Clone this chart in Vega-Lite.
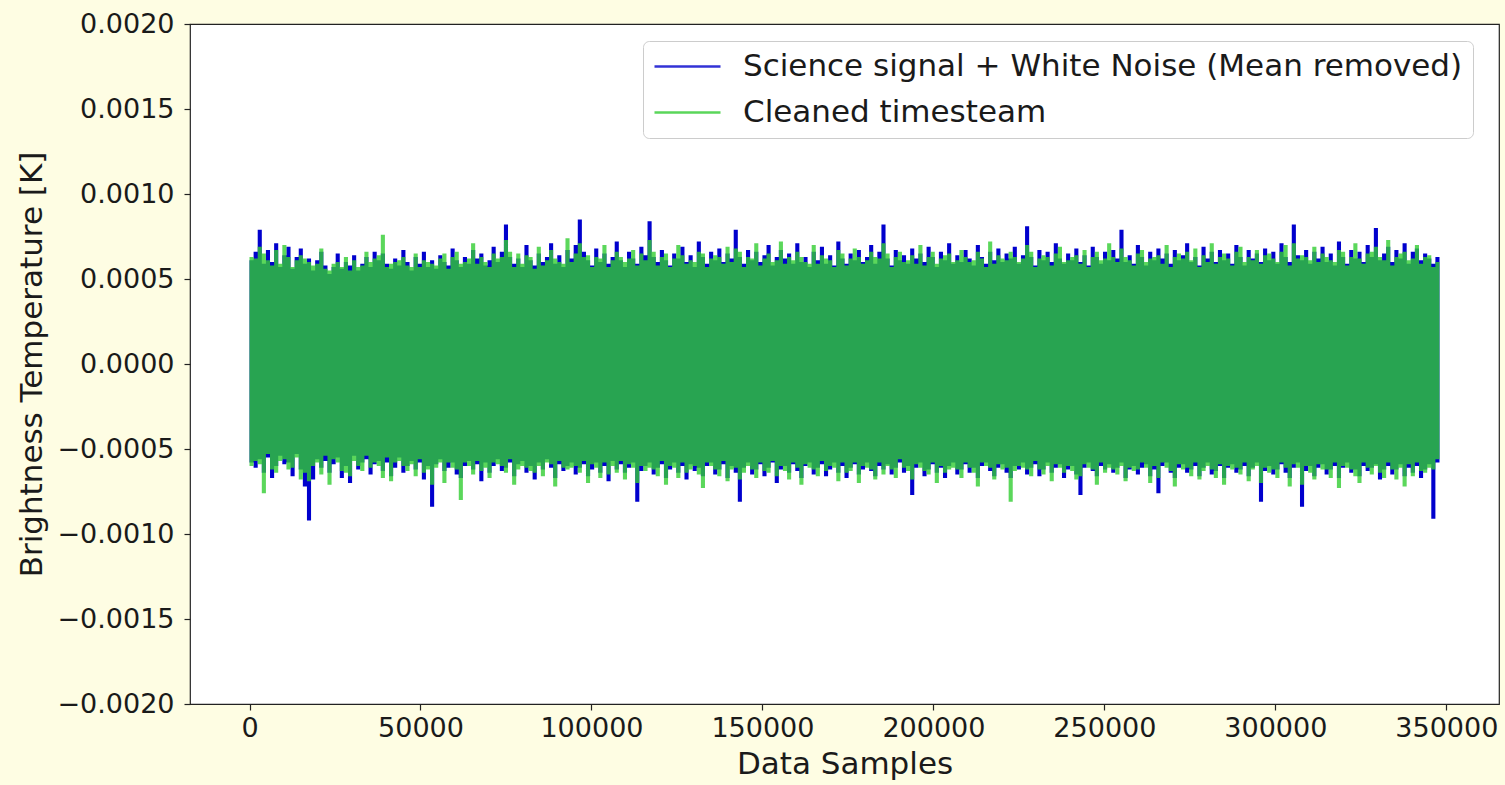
{
  "$schema": "https://vega.github.io/schema/vega-lite/v6.json",
  "width": 1309,
  "height": 680,
  "autosize": {"type": "none"},
  "padding": {"left": 190, "top": 24, "right": 6, "bottom": 81},
  "background": "#fefde3",
  "config": {
    "view": {"fill": "white", "stroke": "#222222", "strokeWidth": 1.2},
    "font": "DejaVu Sans",
    "axis": {
      "domain": false, "grid": false,
      "tickColor": "#222222", "tickSize": 6, "tickWidth": 1.2,
      "labelFont": "DejaVu Sans", "labelFontSize": 27, "labelColor": "#1a1a1a",
      "titleFont": "DejaVu Sans", "titleFontSize": 31, "titleFontWeight": "normal", "titleColor": "#1a1a1a"
    }
  },
  "data": {"values": [
    {"x":0,"bh":6.1e-4,"gh":6.3e-4,"bl":-5.8e-4,"gl":-6.0e-4},
    {"x":1200,"bh":6.6e-4,"gh":6.2e-4,"bl":-6.1e-4,"gl":-5.7e-4},
    {"x":2400,"bh":7.9e-4,"gh":6.9e-4,"bl":-5.6e-4,"gl":-5.9e-4},
    {"x":3600,"bh":5.9e-4,"gh":6.5e-4,"bl":-6.4e-4,"gl":-7.6e-4},
    {"x":4800,"bh":6.7e-4,"gh":6.1e-4,"bl":-5.5e-4,"gl":-5.3e-4},
    {"x":6000,"bh":6.0e-4,"gh":5.8e-4,"bl":-6.7e-4,"gl":-6.2e-4},
    {"x":7200,"bh":7.1e-4,"gh":6.7e-4,"bl":-6.0e-4,"gl":-6.4e-4},
    {"x":8400,"bh":5.7e-4,"gh":5.9e-4,"bl":-5.4e-4,"gl":-5.7e-4},
    {"x":9600,"bh":6.4e-4,"gh":7.0e-4,"bl":-5.9e-4,"gl":-5.6e-4},
    {"x":10800,"bh":6.9e-4,"gh":6.3e-4,"bl":-5.8e-4,"gl":-6.2e-4},
    {"x":12000,"bh":5.6e-4,"gh":5.7e-4,"bl":-6.6e-4,"gl":-6.1e-4},
    {"x":13200,"bh":6.3e-4,"gh":6.1e-4,"bl":-5.3e-4,"gl":-5.5e-4},
    {"x":14400,"bh":6.8e-4,"gh":6.4e-4,"bl":-6.2e-4,"gl":-6.8e-4},
    {"x":15600,"bh":5.9e-4,"gh":6.2e-4,"bl":-7.2e-4,"gl":-6.4e-4},
    {"x":16800,"bh":6.2e-4,"gh":6.0e-4,"bl":-9.2e-4,"gl":-6.9e-4},
    {"x":18000,"bh":5.5e-4,"gh":5.8e-4,"bl":-6.8e-4,"gl":-6.0e-4},
    {"x":19200,"bh":6.1e-4,"gh":5.9e-4,"bl":-5.6e-4,"gl":-5.8e-4},
    {"x":20400,"bh":6.6e-4,"gh":6.8e-4,"bl":-6.1e-4,"gl":-6.5e-4},
    {"x":21600,"bh":5.8e-4,"gh":5.6e-4,"bl":-5.7e-4,"gl":-5.4e-4},
    {"x":22800,"bh":5.3e-4,"gh":5.5e-4,"bl":-6.4e-4,"gl":-7.1e-4},
    {"x":24000,"bh":5.7e-4,"gh":5.9e-4,"bl":-5.9e-4,"gl":-5.6e-4},
    {"x":25200,"bh":6.5e-4,"gh":6.0e-4,"bl":-5.5e-4,"gl":-5.8e-4},
    {"x":26400,"bh":5.6e-4,"gh":5.7e-4,"bl":-6.7e-4,"gl":-6.3e-4},
    {"x":27600,"bh":6.0e-4,"gh":6.3e-4,"bl":-6.0e-4,"gl":-6.4e-4},
    {"x":28800,"bh":5.8e-4,"gh":5.5e-4,"bl":-7.0e-4,"gl":-6.6e-4},
    {"x":30000,"bh":6.4e-4,"gh":6.1e-4,"bl":-5.4e-4,"gl":-5.7e-4},
    {"x":31200,"bh":5.5e-4,"gh":5.7e-4,"bl":-6.2e-4,"gl":-6.0e-4},
    {"x":32400,"bh":5.9e-4,"gh":5.8e-4,"bl":-5.8e-4,"gl":-6.3e-4},
    {"x":33600,"bh":6.3e-4,"gh":6.6e-4,"bl":-5.6e-4,"gl":-5.4e-4},
    {"x":34800,"bh":5.7e-4,"gh":6.0e-4,"bl":-6.5e-4,"gl":-6.1e-4},
    {"x":36000,"bh":6.6e-4,"gh":6.2e-4,"bl":-5.9e-4,"gl":-5.8e-4},
    {"x":37200,"bh":6.1e-4,"gh":6.4e-4,"bl":-5.7e-4,"gl":-6.0e-4},
    {"x":38400,"bh":6.5e-4,"gh":7.6e-4,"bl":-6.3e-4,"gl":-6.7e-4},
    {"x":39600,"bh":5.9e-4,"gh":5.7e-4,"bl":-5.8e-4,"gl":-5.5e-4},
    {"x":40800,"bh":5.6e-4,"gh":5.9e-4,"bl":-6.6e-4,"gl":-6.9e-4},
    {"x":42000,"bh":6.2e-4,"gh":6.0e-4,"bl":-6.1e-4,"gl":-5.8e-4},
    {"x":43200,"bh":5.8e-4,"gh":6.1e-4,"bl":-5.5e-4,"gl":-5.7e-4},
    {"x":44400,"bh":6.7e-4,"gh":6.3e-4,"bl":-6.4e-4,"gl":-6.0e-4},
    {"x":45600,"bh":6.0e-4,"gh":5.8e-4,"bl":-6.0e-4,"gl":-6.3e-4},
    {"x":46800,"bh":5.5e-4,"gh":5.7e-4,"bl":-5.7e-4,"gl":-5.9e-4},
    {"x":48000,"bh":6.3e-4,"gh":6.5e-4,"bl":-6.2e-4,"gl":-6.6e-4},
    {"x":49200,"bh":5.9e-4,"gh":5.7e-4,"bl":-5.8e-4,"gl":-5.6e-4},
    {"x":50400,"bh":6.6e-4,"gh":6.1e-4,"bl":-6.8e-4,"gl":-6.4e-4},
    {"x":51600,"bh":5.7e-4,"gh":6.0e-4,"bl":-6.0e-4,"gl":-6.2e-4},
    {"x":52800,"bh":6.1e-4,"gh":5.9e-4,"bl":-8.4e-4,"gl":-7.1e-4},
    {"x":54000,"bh":5.6e-4,"gh":5.8e-4,"bl":-5.9e-4,"gl":-6.1e-4},
    {"x":55200,"bh":6.4e-4,"gh":6.2e-4,"bl":-5.6e-4,"gl":-5.8e-4},
    {"x":56400,"bh":6.0e-4,"gh":6.5e-4,"bl":-6.3e-4,"gl":-7.0e-4},
    {"x":57600,"bh":5.8e-4,"gh":5.6e-4,"bl":-6.1e-4,"gl":-5.8e-4},
    {"x":58800,"bh":6.8e-4,"gh":6.3e-4,"bl":-5.8e-4,"gl":-6.1e-4},
    {"x":60000,"bh":6.1e-4,"gh":6.6e-4,"bl":-6.5e-4,"gl":-6.2e-4},
    {"x":61200,"bh":5.7e-4,"gh":5.9e-4,"bl":-6.7e-4,"gl":-8.0e-4},
    {"x":62400,"bh":6.3e-4,"gh":6.0e-4,"bl":-6.0e-4,"gl":-5.8e-4},
    {"x":63600,"bh":5.9e-4,"gh":6.2e-4,"bl":-5.7e-4,"gl":-6.0e-4},
    {"x":64800,"bh":6.7e-4,"gh":7.1e-4,"bl":-6.2e-4,"gl":-6.5e-4},
    {"x":66000,"bh":6.2e-4,"gh":5.9e-4,"bl":-5.9e-4,"gl":-5.7e-4},
    {"x":67200,"bh":6.5e-4,"gh":6.3e-4,"bl":-6.9e-4,"gl":-6.3e-4},
    {"x":68400,"bh":5.8e-4,"gh":6.0e-4,"bl":-5.8e-4,"gl":-6.1e-4},
    {"x":69600,"bh":6.1e-4,"gh":5.7e-4,"bl":-6.4e-4,"gl":-6.7e-4},
    {"x":70800,"bh":6.9e-4,"gh":6.5e-4,"bl":-6.0e-4,"gl":-5.8e-4},
    {"x":72000,"bh":6.0e-4,"gh":6.2e-4,"bl":-5.6e-4,"gl":-5.9e-4},
    {"x":73200,"bh":6.6e-4,"gh":6.3e-4,"bl":-6.3e-4,"gl":-6.0e-4},
    {"x":74400,"bh":8.2e-4,"gh":7.3e-4,"bl":-6.1e-4,"gl":-6.4e-4},
    {"x":75600,"bh":6.3e-4,"gh":6.6e-4,"bl":-5.8e-4,"gl":-5.6e-4},
    {"x":76800,"bh":5.9e-4,"gh":5.7e-4,"bl":-6.6e-4,"gl":-7.1e-4},
    {"x":78000,"bh":6.2e-4,"gh":6.5e-4,"bl":-5.9e-4,"gl":-6.2e-4},
    {"x":79200,"bh":5.7e-4,"gh":5.9e-4,"bl":-5.7e-4,"gl":-6.0e-4},
    {"x":80400,"bh":7.0e-4,"gh":6.4e-4,"bl":-6.4e-4,"gl":-6.1e-4},
    {"x":81600,"bh":6.1e-4,"gh":6.3e-4,"bl":-6.0e-4,"gl":-6.3e-4},
    {"x":82800,"bh":5.8e-4,"gh":5.6e-4,"bl":-6.8e-4,"gl":-6.4e-4},
    {"x":84000,"bh":6.5e-4,"gh":6.9e-4,"bl":-5.8e-4,"gl":-6.0e-4},
    {"x":85200,"bh":6.0e-4,"gh":5.8e-4,"bl":-6.2e-4,"gl":-6.6e-4},
    {"x":86400,"bh":6.3e-4,"gh":6.1e-4,"bl":-5.6e-4,"gl":-5.8e-4},
    {"x":87600,"bh":7.1e-4,"gh":6.7e-4,"bl":-6.1e-4,"gl":-5.9e-4},
    {"x":88800,"bh":5.9e-4,"gh":6.2e-4,"bl":-6.7e-4,"gl":-7.2e-4},
    {"x":90000,"bh":6.4e-4,"gh":6.0e-4,"bl":-5.9e-4,"gl":-5.7e-4},
    {"x":91200,"bh":5.7e-4,"gh":5.9e-4,"bl":-6.3e-4,"gl":-6.1e-4},
    {"x":92400,"bh":6.7e-4,"gh":7.4e-4,"bl":-6.0e-4,"gl":-6.2e-4},
    {"x":93600,"bh":6.2e-4,"gh":6.0e-4,"bl":-5.8e-4,"gl":-6.1e-4},
    {"x":94800,"bh":7.0e-4,"gh":6.5e-4,"bl":-6.5e-4,"gl":-6.0e-4},
    {"x":96000,"bh":8.5e-4,"gh":7.1e-4,"bl":-6.1e-4,"gl":-6.4e-4},
    {"x":97200,"bh":6.6e-4,"gh":6.3e-4,"bl":-5.9e-4,"gl":-5.7e-4},
    {"x":98400,"bh":6.1e-4,"gh":6.4e-4,"bl":-6.6e-4,"gl":-7.0e-4},
    {"x":99600,"bh":5.8e-4,"gh":5.7e-4,"bl":-6.2e-4,"gl":-5.9e-4},
    {"x":100800,"bh":6.8e-4,"gh":6.3e-4,"bl":-5.8e-4,"gl":-6.1e-4},
    {"x":102000,"bh":6.0e-4,"gh":6.2e-4,"bl":-6.4e-4,"gl":-6.7e-4},
    {"x":103200,"bh":6.5e-4,"gh":7.0e-4,"bl":-6.0e-4,"gl":-5.8e-4},
    {"x":104400,"bh":5.9e-4,"gh":5.7e-4,"bl":-6.9e-4,"gl":-6.5e-4},
    {"x":105600,"bh":6.3e-4,"gh":6.1e-4,"bl":-5.7e-4,"gl":-6.0e-4},
    {"x":106800,"bh":7.2e-4,"gh":6.6e-4,"bl":-6.2e-4,"gl":-6.4e-4},
    {"x":108000,"bh":6.1e-4,"gh":6.3e-4,"bl":-5.9e-4,"gl":-5.7e-4},
    {"x":109200,"bh":5.7e-4,"gh":6.0e-4,"bl":-6.4e-4,"gl":-6.8e-4},
    {"x":110400,"bh":6.6e-4,"gh":6.2e-4,"bl":-6.1e-4,"gl":-5.9e-4},
    {"x":111600,"bh":6.2e-4,"gh":6.7e-4,"bl":-5.8e-4,"gl":-6.1e-4},
    {"x":112800,"bh":5.9e-4,"gh":5.8e-4,"bl":-8.1e-4,"gl":-7.0e-4},
    {"x":114000,"bh":6.9e-4,"gh":6.5e-4,"bl":-6.3e-4,"gl":-6.0e-4},
    {"x":115200,"bh":6.4e-4,"gh":6.1e-4,"bl":-6.0e-4,"gl":-6.3e-4},
    {"x":116400,"bh":8.4e-4,"gh":7.3e-4,"bl":-5.8e-4,"gl":-6.1e-4},
    {"x":117600,"bh":6.3e-4,"gh":6.6e-4,"bl":-6.5e-4,"gl":-6.2e-4},
    {"x":118800,"bh":6.0e-4,"gh":5.8e-4,"bl":-6.1e-4,"gl":-6.6e-4},
    {"x":120000,"bh":6.7e-4,"gh":6.3e-4,"bl":-5.9e-4,"gl":-5.7e-4},
    {"x":121200,"bh":6.1e-4,"gh":6.5e-4,"bl":-6.7e-4,"gl":-7.1e-4},
    {"x":122400,"bh":5.8e-4,"gh":5.7e-4,"bl":-6.2e-4,"gl":-6.0e-4},
    {"x":123600,"bh":6.5e-4,"gh":6.2e-4,"bl":-5.8e-4,"gl":-6.1e-4},
    {"x":124800,"bh":6.2e-4,"gh":7.0e-4,"bl":-6.4e-4,"gl":-6.7e-4},
    {"x":126000,"bh":6.9e-4,"gh":6.4e-4,"bl":-6.0e-4,"gl":-5.8e-4},
    {"x":127200,"bh":6.0e-4,"gh":5.9e-4,"bl":-6.8e-4,"gl":-6.4e-4},
    {"x":128400,"bh":6.4e-4,"gh":6.1e-4,"bl":-5.9e-4,"gl":-6.2e-4},
    {"x":129600,"bh":5.7e-4,"gh":6.0e-4,"bl":-6.3e-4,"gl":-6.0e-4},
    {"x":130800,"bh":7.2e-4,"gh":6.6e-4,"bl":-6.1e-4,"gl":-6.5e-4},
    {"x":132000,"bh":6.3e-4,"gh":6.5e-4,"bl":-6.6e-4,"gl":-7.3e-4},
    {"x":133200,"bh":5.9e-4,"gh":5.7e-4,"bl":-6.0e-4,"gl":-5.8e-4},
    {"x":134400,"bh":6.6e-4,"gh":6.2e-4,"bl":-5.8e-4,"gl":-6.0e-4},
    {"x":135600,"bh":6.1e-4,"gh":6.4e-4,"bl":-6.5e-4,"gl":-6.2e-4},
    {"x":136800,"bh":6.8e-4,"gh":6.3e-4,"bl":-6.2e-4,"gl":-6.6e-4},
    {"x":138000,"bh":6.0e-4,"gh":5.9e-4,"bl":-5.9e-4,"gl":-5.7e-4},
    {"x":139200,"bh":6.5e-4,"gh":6.9e-4,"bl":-6.7e-4,"gl":-6.9e-4},
    {"x":140400,"bh":6.2e-4,"gh":6.0e-4,"bl":-6.0e-4,"gl":-6.2e-4},
    {"x":141600,"bh":7.9e-4,"gh":6.8e-4,"bl":-6.4e-4,"gl":-6.1e-4},
    {"x":142800,"bh":6.3e-4,"gh":6.6e-4,"bl":-8.1e-4,"gl":-6.8e-4},
    {"x":144000,"bh":5.9e-4,"gh":5.7e-4,"bl":-6.1e-4,"gl":-6.4e-4},
    {"x":145200,"bh":6.7e-4,"gh":6.3e-4,"bl":-5.8e-4,"gl":-6.0e-4},
    {"x":146400,"bh":6.1e-4,"gh":6.2e-4,"bl":-6.5e-4,"gl":-6.2e-4},
    {"x":147600,"bh":6.6e-4,"gh":7.1e-4,"bl":-6.2e-4,"gl":-6.7e-4},
    {"x":148800,"bh":6.0e-4,"gh":5.8e-4,"bl":-5.9e-4,"gl":-5.8e-4},
    {"x":150000,"bh":6.4e-4,"gh":6.2e-4,"bl":-6.6e-4,"gl":-6.3e-4},
    {"x":151200,"bh":7.0e-4,"gh":6.5e-4,"bl":-6.1e-4,"gl":-6.4e-4},
    {"x":152400,"bh":5.8e-4,"gh":6.0e-4,"bl":-5.8e-4,"gl":-5.7e-4},
    {"x":153600,"bh":6.3e-4,"gh":6.1e-4,"bl":-7.0e-4,"gl":-6.6e-4},
    {"x":154800,"bh":6.7e-4,"gh":7.2e-4,"bl":-6.2e-4,"gl":-6.0e-4},
    {"x":156000,"bh":6.2e-4,"gh":5.9e-4,"bl":-6.0e-4,"gl":-6.3e-4},
    {"x":157200,"bh":6.5e-4,"gh":6.3e-4,"bl":-6.4e-4,"gl":-6.8e-4},
    {"x":158400,"bh":5.9e-4,"gh":6.1e-4,"bl":-5.9e-4,"gl":-5.8e-4},
    {"x":159600,"bh":7.1e-4,"gh":6.6e-4,"bl":-6.3e-4,"gl":-6.1e-4},
    {"x":160800,"bh":6.0e-4,"gh":6.3e-4,"bl":-6.7e-4,"gl":-7.1e-4},
    {"x":162000,"bh":6.3e-4,"gh":6.0e-4,"bl":-6.0e-4,"gl":-5.9e-4},
    {"x":163200,"bh":5.7e-4,"gh":5.9e-4,"bl":-5.8e-4,"gl":-6.1e-4},
    {"x":164400,"bh":6.6e-4,"gh":7.0e-4,"bl":-6.5e-4,"gl":-6.2e-4},
    {"x":165600,"bh":6.1e-4,"gh":5.9e-4,"bl":-6.1e-4,"gl":-6.6e-4},
    {"x":166800,"bh":6.9e-4,"gh":6.4e-4,"bl":-5.9e-4,"gl":-5.7e-4},
    {"x":168000,"bh":5.9e-4,"gh":6.2e-4,"bl":-6.6e-4,"gl":-6.3e-4},
    {"x":169200,"bh":6.4e-4,"gh":6.1e-4,"bl":-6.2e-4,"gl":-6.0e-4},
    {"x":170400,"bh":5.8e-4,"gh":5.7e-4,"bl":-5.8e-4,"gl":-6.1e-4},
    {"x":171600,"bh":7.2e-4,"gh":6.7e-4,"bl":-6.4e-4,"gl":-6.9e-4},
    {"x":172800,"bh":6.2e-4,"gh":6.5e-4,"bl":-6.0e-4,"gl":-5.8e-4},
    {"x":174000,"bh":5.9e-4,"gh":5.8e-4,"bl":-6.7e-4,"gl":-6.4e-4},
    {"x":175200,"bh":6.5e-4,"gh":6.2e-4,"bl":-6.1e-4,"gl":-6.3e-4},
    {"x":176400,"bh":6.1e-4,"gh":6.8e-4,"bl":-5.9e-4,"gl":-5.8e-4},
    {"x":177600,"bh":6.7e-4,"gh":6.3e-4,"bl":-6.5e-4,"gl":-7.0e-4},
    {"x":178800,"bh":6.0e-4,"gh":5.9e-4,"bl":-6.2e-4,"gl":-6.0e-4},
    {"x":180000,"bh":6.3e-4,"gh":6.1e-4,"bl":-5.8e-4,"gl":-6.1e-4},
    {"x":181200,"bh":7.0e-4,"gh":6.6e-4,"bl":-6.3e-4,"gl":-6.2e-4},
    {"x":182400,"bh":5.9e-4,"gh":6.3e-4,"bl":-6.6e-4,"gl":-6.8e-4},
    {"x":183600,"bh":6.6e-4,"gh":6.2e-4,"bl":-6.0e-4,"gl":-5.8e-4},
    {"x":184800,"bh":8.2e-4,"gh":7.1e-4,"bl":-6.2e-4,"gl":-6.5e-4},
    {"x":186000,"bh":6.2e-4,"gh":6.5e-4,"bl":-5.9e-4,"gl":-6.0e-4},
    {"x":187200,"bh":5.8e-4,"gh":5.7e-4,"bl":-6.5e-4,"gl":-6.2e-4},
    {"x":188400,"bh":6.7e-4,"gh":6.3e-4,"bl":-6.1e-4,"gl":-6.7e-4},
    {"x":189600,"bh":6.1e-4,"gh":6.6e-4,"bl":-5.8e-4,"gl":-5.6e-4},
    {"x":190800,"bh":6.4e-4,"gh":6.0e-4,"bl":-6.4e-4,"gl":-6.1e-4},
    {"x":192000,"bh":5.9e-4,"gh":6.1e-4,"bl":-6.0e-4,"gl":-6.3e-4},
    {"x":193200,"bh":6.8e-4,"gh":6.4e-4,"bl":-7.7e-4,"gl":-6.8e-4},
    {"x":194400,"bh":6.2e-4,"gh":5.9e-4,"bl":-6.1e-4,"gl":-5.9e-4},
    {"x":195600,"bh":6.5e-4,"gh":7.0e-4,"bl":-5.8e-4,"gl":-6.1e-4},
    {"x":196800,"bh":6.0e-4,"gh":5.8e-4,"bl":-6.6e-4,"gl":-6.3e-4},
    {"x":198000,"bh":6.9e-4,"gh":6.3e-4,"bl":-6.2e-4,"gl":-6.5e-4},
    {"x":199200,"bh":6.3e-4,"gh":6.6e-4,"bl":-5.9e-4,"gl":-5.8e-4},
    {"x":200400,"bh":5.7e-4,"gh":5.9e-4,"bl":-6.4e-4,"gl":-7.0e-4},
    {"x":201600,"bh":6.6e-4,"gh":6.2e-4,"bl":-6.1e-4,"gl":-6.0e-4},
    {"x":202800,"bh":6.1e-4,"gh":6.4e-4,"bl":-6.7e-4,"gl":-6.4e-4},
    {"x":204000,"bh":7.1e-4,"gh":6.5e-4,"bl":-6.0e-4,"gl":-6.2e-4},
    {"x":205200,"bh":5.9e-4,"gh":6.0e-4,"bl":-5.8e-4,"gl":-6.1e-4},
    {"x":206400,"bh":6.4e-4,"gh":6.1e-4,"bl":-6.5e-4,"gl":-6.2e-4},
    {"x":207600,"bh":6.0e-4,"gh":6.7e-4,"bl":-6.2e-4,"gl":-6.7e-4},
    {"x":208800,"bh":6.7e-4,"gh":6.3e-4,"bl":-5.9e-4,"gl":-5.8e-4},
    {"x":210000,"bh":6.2e-4,"gh":6.0e-4,"bl":-6.4e-4,"gl":-6.1e-4},
    {"x":211200,"bh":5.8e-4,"gh":6.1e-4,"bl":-6.1e-4,"gl":-6.4e-4},
    {"x":212400,"bh":7.0e-4,"gh":6.6e-4,"bl":-6.7e-4,"gl":-7.2e-4},
    {"x":213600,"bh":6.3e-4,"gh":6.2e-4,"bl":-6.0e-4,"gl":-5.8e-4},
    {"x":214800,"bh":5.9e-4,"gh":5.7e-4,"bl":-5.8e-4,"gl":-6.0e-4},
    {"x":216000,"bh":6.6e-4,"gh":7.2e-4,"bl":-6.3e-4,"gl":-6.1e-4},
    {"x":217200,"bh":6.1e-4,"gh":5.9e-4,"bl":-6.6e-4,"gl":-6.8e-4},
    {"x":218400,"bh":6.8e-4,"gh":6.4e-4,"bl":-6.1e-4,"gl":-5.9e-4},
    {"x":219600,"bh":6.0e-4,"gh":6.2e-4,"bl":-5.9e-4,"gl":-6.2e-4},
    {"x":220800,"bh":6.5e-4,"gh":6.1e-4,"bl":-6.4e-4,"gl":-6.1e-4},
    {"x":222000,"bh":6.2e-4,"gh":6.6e-4,"bl":-6.7e-4,"gl":-8.1e-4},
    {"x":223200,"bh":6.9e-4,"gh":6.3e-4,"bl":-6.0e-4,"gl":-6.3e-4},
    {"x":224400,"bh":5.9e-4,"gh":6.0e-4,"bl":-6.2e-4,"gl":-6.0e-4},
    {"x":225600,"bh":6.4e-4,"gh":6.2e-4,"bl":-5.8e-4,"gl":-6.1e-4},
    {"x":226800,"bh":8.1e-4,"gh":7.0e-4,"bl":-6.5e-4,"gl":-6.2e-4},
    {"x":228000,"bh":6.3e-4,"gh":6.6e-4,"bl":-6.1e-4,"gl":-6.6e-4},
    {"x":229200,"bh":5.8e-4,"gh":5.7e-4,"bl":-5.9e-4,"gl":-5.7e-4},
    {"x":230400,"bh":6.7e-4,"gh":6.2e-4,"bl":-6.6e-4,"gl":-6.2e-4},
    {"x":231600,"bh":6.1e-4,"gh":6.4e-4,"bl":-6.2e-4,"gl":-6.5e-4},
    {"x":232800,"bh":6.6e-4,"gh":6.3e-4,"bl":-5.8e-4,"gl":-6.0e-4},
    {"x":234000,"bh":6.0e-4,"gh":5.8e-4,"bl":-6.4e-4,"gl":-6.9e-4},
    {"x":235200,"bh":7.1e-4,"gh":6.5e-4,"bl":-6.1e-4,"gl":-5.9e-4},
    {"x":236400,"bh":6.2e-4,"gh":6.9e-4,"bl":-5.9e-4,"gl":-6.1e-4},
    {"x":237600,"bh":5.9e-4,"gh":6.0e-4,"bl":-6.7e-4,"gl":-6.4e-4},
    {"x":238800,"bh":6.5e-4,"gh":6.1e-4,"bl":-6.2e-4,"gl":-6.0e-4},
    {"x":240000,"bh":6.1e-4,"gh":6.3e-4,"bl":-6.0e-4,"gl":-6.3e-4},
    {"x":241200,"bh":6.8e-4,"gh":6.4e-4,"bl":-6.5e-4,"gl":-6.8e-4},
    {"x":242400,"bh":6.0e-4,"gh":5.9e-4,"bl":-7.7e-4,"gl":-6.6e-4},
    {"x":243600,"bh":6.4e-4,"gh":6.7e-4,"bl":-6.1e-4,"gl":-5.9e-4},
    {"x":244800,"bh":5.8e-4,"gh":5.7e-4,"bl":-5.8e-4,"gl":-6.1e-4},
    {"x":246000,"bh":6.9e-4,"gh":6.3e-4,"bl":-6.3e-4,"gl":-6.2e-4},
    {"x":247200,"bh":6.3e-4,"gh":6.6e-4,"bl":-6.6e-4,"gl":-7.1e-4},
    {"x":248400,"bh":5.9e-4,"gh":6.1e-4,"bl":-6.0e-4,"gl":-5.8e-4},
    {"x":249600,"bh":6.6e-4,"gh":6.2e-4,"bl":-6.2e-4,"gl":-6.4e-4},
    {"x":250800,"bh":6.1e-4,"gh":7.1e-4,"bl":-5.9e-4,"gl":-6.1e-4},
    {"x":252000,"bh":6.7e-4,"gh":6.3e-4,"bl":-6.4e-4,"gl":-6.2e-4},
    {"x":253200,"bh":6.2e-4,"gh":6.0e-4,"bl":-6.1e-4,"gl":-6.5e-4},
    {"x":254400,"bh":7.9e-4,"gh":6.8e-4,"bl":-5.8e-4,"gl":-6.0e-4},
    {"x":255600,"bh":6.0e-4,"gh":6.3e-4,"bl":-6.7e-4,"gl":-6.9e-4},
    {"x":256800,"bh":6.4e-4,"gh":6.1e-4,"bl":-6.2e-4,"gl":-6.1e-4},
    {"x":258000,"bh":5.9e-4,"gh":5.8e-4,"bl":-6.0e-4,"gl":-6.3e-4},
    {"x":259200,"bh":7.0e-4,"gh":6.5e-4,"bl":-6.5e-4,"gl":-6.2e-4},
    {"x":260400,"bh":6.3e-4,"gh":6.7e-4,"bl":-6.1e-4,"gl":-5.8e-4},
    {"x":261600,"bh":5.8e-4,"gh":6.0e-4,"bl":-5.9e-4,"gl":-6.1e-4},
    {"x":262800,"bh":6.6e-4,"gh":6.2e-4,"bl":-6.6e-4,"gl":-7.0e-4},
    {"x":264000,"bh":6.1e-4,"gh":6.3e-4,"bl":-6.2e-4,"gl":-6.0e-4},
    {"x":265200,"bh":6.8e-4,"gh":6.4e-4,"bl":-7.6e-4,"gl":-6.7e-4},
    {"x":266400,"bh":6.2e-4,"gh":5.9e-4,"bl":-6.0e-4,"gl":-5.8e-4},
    {"x":267600,"bh":6.5e-4,"gh":7.0e-4,"bl":-5.8e-4,"gl":-6.1e-4},
    {"x":268800,"bh":5.9e-4,"gh":5.7e-4,"bl":-6.4e-4,"gl":-6.3e-4},
    {"x":270000,"bh":6.7e-4,"gh":6.3e-4,"bl":-6.7e-4,"gl":-7.2e-4},
    {"x":271200,"bh":6.1e-4,"gh":6.5e-4,"bl":-6.1e-4,"gl":-5.9e-4},
    {"x":272400,"bh":6.4e-4,"gh":6.2e-4,"bl":-5.9e-4,"gl":-6.2e-4},
    {"x":273600,"bh":7.1e-4,"gh":6.6e-4,"bl":-6.4e-4,"gl":-6.1e-4},
    {"x":274800,"bh":6.0e-4,"gh":6.1e-4,"bl":-6.2e-4,"gl":-6.6e-4},
    {"x":276000,"bh":6.3e-4,"gh":6.8e-4,"bl":-6.0e-4,"gl":-5.8e-4},
    {"x":277200,"bh":5.8e-4,"gh":5.7e-4,"bl":-6.6e-4,"gl":-6.8e-4},
    {"x":278400,"bh":6.9e-4,"gh":6.4e-4,"bl":-6.1e-4,"gl":-6.3e-4},
    {"x":279600,"bh":6.2e-4,"gh":6.0e-4,"bl":-5.8e-4,"gl":-6.0e-4},
    {"x":280800,"bh":6.6e-4,"gh":7.1e-4,"bl":-6.5e-4,"gl":-6.2e-4},
    {"x":282000,"bh":6.0e-4,"gh":5.9e-4,"bl":-6.3e-4,"gl":-6.7e-4},
    {"x":283200,"bh":6.7e-4,"gh":6.3e-4,"bl":-6.0e-4,"gl":-5.9e-4},
    {"x":284400,"bh":6.1e-4,"gh":6.5e-4,"bl":-6.7e-4,"gl":-7.1e-4},
    {"x":285600,"bh":6.5e-4,"gh":6.2e-4,"bl":-6.1e-4,"gl":-6.0e-4},
    {"x":286800,"bh":5.9e-4,"gh":5.8e-4,"bl":-5.9e-4,"gl":-6.2e-4},
    {"x":288000,"bh":7.0e-4,"gh":6.6e-4,"bl":-6.4e-4,"gl":-6.1e-4},
    {"x":289200,"bh":6.3e-4,"gh":6.9e-4,"bl":-6.2e-4,"gl":-6.5e-4},
    {"x":290400,"bh":5.8e-4,"gh":6.0e-4,"bl":-6.0e-4,"gl":-5.8e-4},
    {"x":291600,"bh":6.7e-4,"gh":6.3e-4,"bl":-6.6e-4,"gl":-6.9e-4},
    {"x":292800,"bh":6.2e-4,"gh":6.1e-4,"bl":-6.1e-4,"gl":-6.2e-4},
    {"x":294000,"bh":6.5e-4,"gh":6.7e-4,"bl":-5.8e-4,"gl":-6.0e-4},
    {"x":295200,"bh":6.0e-4,"gh":5.9e-4,"bl":-8.1e-4,"gl":-7.0e-4},
    {"x":296400,"bh":6.8e-4,"gh":6.4e-4,"bl":-6.3e-4,"gl":-6.1e-4},
    {"x":297600,"bh":6.1e-4,"gh":6.5e-4,"bl":-6.0e-4,"gl":-6.4e-4},
    {"x":298800,"bh":6.6e-4,"gh":6.2e-4,"bl":-6.5e-4,"gl":-6.2e-4},
    {"x":300000,"bh":5.9e-4,"gh":6.0e-4,"bl":-6.2e-4,"gl":-6.7e-4},
    {"x":301200,"bh":7.1e-4,"gh":6.6e-4,"bl":-5.9e-4,"gl":-5.8e-4},
    {"x":302400,"bh":6.3e-4,"gh":7.0e-4,"bl":-6.4e-4,"gl":-6.1e-4},
    {"x":303600,"bh":6.0e-4,"gh":5.8e-4,"bl":-6.7e-4,"gl":-7.2e-4},
    {"x":304800,"bh":8.2e-4,"gh":7.1e-4,"bl":-6.1e-4,"gl":-5.9e-4},
    {"x":306000,"bh":6.4e-4,"gh":6.2e-4,"bl":-5.8e-4,"gl":-6.1e-4},
    {"x":307200,"bh":6.1e-4,"gh":6.4e-4,"bl":-8.4e-4,"gl":-7.1e-4},
    {"x":308400,"bh":6.7e-4,"gh":6.3e-4,"bl":-6.3e-4,"gl":-6.0e-4},
    {"x":309600,"bh":5.9e-4,"gh":6.1e-4,"bl":-6.0e-4,"gl":-6.4e-4},
    {"x":310800,"bh":6.6e-4,"gh":6.9e-4,"bl":-6.6e-4,"gl":-6.8e-4},
    {"x":312000,"bh":6.2e-4,"gh":6.0e-4,"bl":-6.1e-4,"gl":-5.9e-4},
    {"x":313200,"bh":6.9e-4,"gh":6.5e-4,"bl":-5.9e-4,"gl":-6.2e-4},
    {"x":314400,"bh":6.0e-4,"gh":6.3e-4,"bl":-6.5e-4,"gl":-6.2e-4},
    {"x":315600,"bh":6.5e-4,"gh":6.1e-4,"bl":-6.2e-4,"gl":-6.7e-4},
    {"x":316800,"bh":5.8e-4,"gh":6.0e-4,"bl":-6.0e-4,"gl":-5.8e-4},
    {"x":318000,"bh":7.2e-4,"gh":6.7e-4,"bl":-6.7e-4,"gl":-7.3e-4},
    {"x":319200,"bh":6.3e-4,"gh":6.6e-4,"bl":-6.1e-4,"gl":-6.0e-4},
    {"x":320400,"bh":5.9e-4,"gh":5.8e-4,"bl":-5.8e-4,"gl":-6.1e-4},
    {"x":321600,"bh":6.7e-4,"gh":6.3e-4,"bl":-6.4e-4,"gl":-6.2e-4},
    {"x":322800,"bh":6.2e-4,"gh":7.1e-4,"bl":-6.2e-4,"gl":-6.6e-4},
    {"x":324000,"bh":6.6e-4,"gh":6.2e-4,"bl":-6.6e-4,"gl":-7.0e-4},
    {"x":325200,"bh":6.0e-4,"gh":5.9e-4,"bl":-6.0e-4,"gl":-5.8e-4},
    {"x":326400,"bh":7.0e-4,"gh":6.5e-4,"bl":-6.3e-4,"gl":-6.1e-4},
    {"x":327600,"bh":6.3e-4,"gh":6.6e-4,"bl":-6.1e-4,"gl":-6.5e-4},
    {"x":328800,"bh":8.0e-4,"gh":6.9e-4,"bl":-5.9e-4,"gl":-6.0e-4},
    {"x":330000,"bh":6.1e-4,"gh":6.3e-4,"bl":-6.8e-4,"gl":-6.4e-4},
    {"x":331200,"bh":6.5e-4,"gh":6.1e-4,"bl":-6.2e-4,"gl":-6.7e-4},
    {"x":332400,"bh":6.9e-4,"gh":7.3e-4,"bl":-6.0e-4,"gl":-5.8e-4},
    {"x":333600,"bh":6.0e-4,"gh":5.8e-4,"bl":-6.5e-4,"gl":-6.2e-4},
    {"x":334800,"bh":6.7e-4,"gh":6.3e-4,"bl":-6.2e-4,"gl":-6.8e-4},
    {"x":336000,"bh":6.2e-4,"gh":6.5e-4,"bl":-5.9e-4,"gl":-6.1e-4},
    {"x":337200,"bh":7.1e-4,"gh":6.6e-4,"bl":-6.6e-4,"gl":-7.2e-4},
    {"x":338400,"bh":5.9e-4,"gh":6.1e-4,"bl":-6.1e-4,"gl":-5.9e-4},
    {"x":339600,"bh":6.6e-4,"gh":6.2e-4,"bl":-6.4e-4,"gl":-6.6e-4},
    {"x":340800,"bh":6.8e-4,"gh":7.0e-4,"bl":-6.0e-4,"gl":-5.8e-4},
    {"x":342000,"bh":6.1e-4,"gh":5.9e-4,"bl":-6.7e-4,"gl":-6.3e-4},
    {"x":343200,"bh":6.5e-4,"gh":6.3e-4,"bl":-6.2e-4,"gl":-6.4e-4},
    {"x":344400,"bh":6.2e-4,"gh":6.4e-4,"bl":-5.9e-4,"gl":-6.1e-4},
    {"x":345600,"bh":5.9e-4,"gh":5.7e-4,"bl":-9.1e-4,"gl":-6.2e-4},
    {"x":346800,"bh":6.3e-4,"gh":6.0e-4,"bl":-5.8e-4,"gl":-5.6e-4},
    {"x":348000,"bh":5.7e-4,"gh":5.8e-4,"bl":-5.2e-4,"gl":-5.4e-4}
  ]},
  "layer": [
    {
      "mark": {"type": "area", "interpolate": "step-after", "color": "#0000cd"},
      "encoding": {
        "x": {
          "field": "x", "type": "quantitative",
          "scale": {"domain": [-17400, 365400], "nice": false, "zero": false},
          "axis": {"title": "Data Samples", "values": [0, 50000, 100000, 150000, 200000, 250000, 300000, 350000], "format": "d", "labelPadding": 5, "titlePadding": 8}
        },
        "y": {
          "field": "bl", "type": "quantitative",
          "scale": {"domain": [-0.002, 0.002], "nice": false, "zero": false},
          "axis": {"title": "Brightness Temperature [K]", "values": [-0.002, -0.0015, -0.001, -0.0005, 0, 0.0005, 0.001, 0.0015, 0.002], "format": ".4f", "labelPadding": 10, "titlePadding": 8}
        },
        "y2": {"field": "bh"}
      }
    },
    {
      "mark": {"type": "area", "interpolate": "step-after", "color": "#32cd32", "opacity": 0.8},
      "encoding": {
        "x": {"field": "x", "type": "quantitative"},
        "y": {"field": "gl", "type": "quantitative"},
        "y2": {"field": "gh"}
      }
    },
    {
      "data": {"values": []},
      "mark": {"type": "line"},
      "encoding": {
        "x": {"field": "x", "type": "quantitative"},
        "y": {"field": "gh", "type": "quantitative"},
        "color": {
          "datum": "Science signal + White Noise (Mean removed)",
          "scale": {"domain": ["Science signal + White Noise (Mean removed)", "Cleaned timesteam"], "range": ["#0000cd", "#32cd32"]},
          "legend": {
            "title": null, "orient": "none", "legendX": 453, "legendY": 17,
            "symbolType": "stroke", "symbolSize": 4356, "symbolStrokeWidth": 2.5, "symbolOpacity": 0.8,
            "labelFont": "DejaVu Sans", "labelFontSize": 31, "labelColor": "#1a1a1a", "labelOffset": 21, "labelLimit": 0,
            "clipHeight": 31, "padding": 10, "rowPadding": 14,
            "fillColor": "rgba(255,255,255,0.8)", "strokeColor": "#cccccc", "cornerRadius": 6
          }
        }
      }
    }
  ]
}
